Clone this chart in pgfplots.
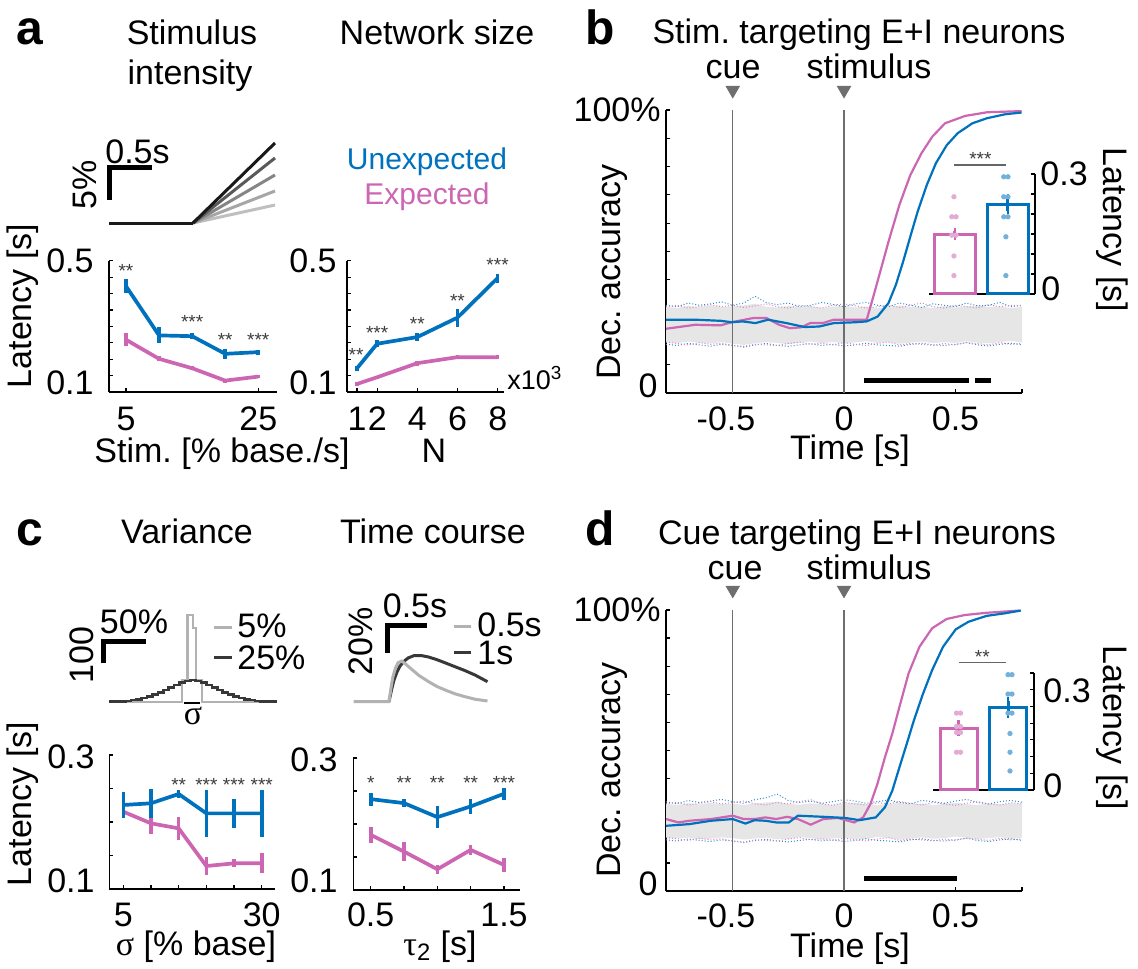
\documentclass[border=0pt]{standalone}
\usepackage{fontspec}
\setmainfont{Liberation Sans}
\newfontfamily\greek{Liberation Serif}
\usepackage{pgfplots}
\usepackage{pgfplotstable}
\pgfplotsset{compat=1.18}
\frenchspacing
\definecolor{ublue}{RGB}{0,114,189}
\definecolor{umag}{RGB}{204,102,178}
\definecolor{sgray}{RGB}{60,60,60}
\definecolor{band}{RGB}{230,230,230}
\definecolor{vline}{RGB}{110,110,110}
\newcommand\fs{\fontsize{17}{19}\selectfont}
\newcommand\fl{\fontsize{15}{18}\selectfont}
\newcommand\fst{\fontsize{9.5}{10}\selectfont}
\newcommand\fx{\fontsize{13.5}{15}\selectfont}
\newcommand\fb{\fontsize{24}{26}\selectfont\bfseries}
\tikzset{st/.style={sgray, font=\fst, yshift=-1pt}}
\pgfplotsset{
  base/.style={scale only axis, clip=false, enlargelimits=false, anchor=south west,
    axis line style={line width=0.7pt,-}, tick align=inside, major tick length=2pt,
    tick style={line width=0.6pt,black}, xticklabels={}, yticklabels={}},
  lat/.style={base, axis x line*=bottom, axis y line*=left},
  ins/.style={base, axis x line*=bottom, axis y line*=right, xtick={1,2}, ymin=0},
  dl/.style={line width=1.85pt, line join=round},
  eb/.style={error bars/y dir=both, error bars/y explicit, error bars/error mark=none,
     error bars/error bar style={line width=1.8pt,#1}},
  ebc/.style={error bars/y dir=both, error bars/y explicit, error bars/error mark=-,
     error bars/error mark options={line width=1.2pt, mark size=1.7pt, #1},
     error bars/error bar style={line width=1.5pt,#1}},
}
\pgfplotstableread{
x ub um lb lm
-0.80 .310 .305 .172 .180
-0.75 .305 .310 .168 .175
-0.70 .318 .300 .175 .170
-0.65 .310 .305 .170 .178
-0.60 .315 .312 .165 .172
-0.55 .322 .305 .172 .176
-0.50 .310 .310 .168 .168
-0.45 .318 .302 .162 .165
-0.40 .342 .308 .170 .172
-0.35 .320 .315 .175 .170
-0.30 .312 .305 .168 .168
-0.25 .318 .300 .165 .175
-0.20 .305 .310 .170 .180
-0.15 .310 .305 .174 .172
-0.10 .320 .300 .168 .176
-0.05 .313 .310 .172 .170
0.00 .305 .315 .166 .178
0.05 .315 .308 .170 .172
0.10 .320 .300 .176 .168
0.15 .310 .305 .170 .175
0.20 .305 .310 .168 .180
0.25 .318 .302 .165 .170
0.30 .310 .310 .172 .175
0.35 .302 .318 .176 .172
0.40 .315 .305 .170 .168
0.45 .310 .300 .168 .175
0.50 .305 .310 .172 .170
0.55 .318 .305 .178 .178
0.60 .308 .300 .170 .175
0.65 .310 .312 .166 .170
0.70 .320 .305 .172 .178
0.75 .305 .310 .176 .172
0.80 .310 .308 .170 .175
}\bandb
\pgfplotstableread{
x ub um lb lm
-0.80 .318 .310 .182 .190
-0.75 .310 .316 .178 .186
-0.70 .322 .306 .185 .180
-0.65 .315 .312 .180 .188
-0.60 .320 .318 .176 .182
-0.55 .326 .310 .182 .186
-0.50 .318 .315 .178 .178
-0.45 .312 .320 .172 .175
-0.40 .325 .310 .180 .182
-0.35 .332 .306 .184 .180
-0.30 .345 .315 .178 .178
-0.25 .322 .310 .175 .185
-0.20 .315 .318 .180 .190
-0.15 .320 .325 .184 .182
-0.10 .312 .310 .178 .186
-0.05 .318 .305 .182 .180
0.00 .325 .315 .176 .188
0.05 .320 .310 .180 .182
0.10 .312 .306 .186 .178
0.15 .318 .314 .180 .185
0.20 .324 .310 .178 .190
0.25 .315 .318 .175 .180
0.30 .310 .312 .182 .185
0.35 .322 .306 .186 .182
0.40 .318 .315 .180 .178
0.45 .312 .310 .178 .185
0.50 .320 .305 .182 .180
0.55 .326 .312 .188 .188
0.60 .315 .318 .180 .185
0.65 .310 .310 .176 .180
0.70 .318 .306 .182 .188
0.75 .322 .314 .186 .182
0.80 .316 .310 .180 .185
}\bandd
\begin{document}
\begin{tikzpicture}
\path[use as bounding box] (0,0) rectangle (569pt,484pt);

% ---------- a: stimulus intensity ----------
\begin{axis}[lat, at={(54.5pt,288pt)}, width=84pt, height=65.65pt,
  xmin=2.43, xmax=27.83, ymin=0.1, ymax=0.5, xtick={5,25},
  ytick={0.1,0.15,0.2,0.25,0.3,0.35,0.4,0.45,0.5}]
\addplot[umag, dl, eb=umag] coordinates {(5,0.2592)+-(0,0.019) (10,0.201)+-(0,0.008) (15,0.1724)+-(0,0.006) (20,0.1347)+-(0,0.006) (25,0.1469)+-(0,0.005)};
\addplot[ublue, dl, eb=ublue] coordinates {(5,0.4224)+-(0,0.022) (10,0.2724)+-(0,0.0245) (15,0.270)+-(0,0.01) (20,0.2163)+-(0,0.015) (25,0.2214)+-(0,0.008)};
\node[st] at (axis cs:5,0.476) {**};
\node[st] at (axis cs:15,0.318) {***};
\node[st] at (axis cs:20,0.264) {**};
\node[st] at (axis cs:25,0.264) {***};
\end{axis}

% ---------- a: network size ----------
\begin{axis}[lat, at={(173.5pt,288pt)}, width=78.3pt, height=65.65pt,
  xmin=0.5, xmax=8.3, ymin=0.1, ymax=0.5, xtick={1,2,4,6,8},
  ytick={0.1,0.15,0.2,0.25,0.3,0.35,0.4,0.45,0.5}]
\addplot[umag, dl, eb=umag] coordinates {(1,0.1245)+-(0,0.005) (2,0.1449)+-(0,0.004) (4,0.1878)+-(0,0.008) (6,0.2061)+-(0,0.007) (8,0.2055)+-(0,0.006)};
\addplot[ublue, dl, eb=ublue] coordinates {(1,0.1724)+-(0,0.008) (2,0.2469)+-(0,0.01) (4,0.2673)+-(0,0.012) (6,0.3265)+-(0,0.027) (8,0.447)+-(0,0.0135)};
\node[st] at (axis cs:0.95,0.218) {**};
\node[st] at (axis cs:2,0.285) {***};
\node[st] at (axis cs:4,0.313) {**};
\node[st] at (axis cs:6,0.382) {**};
\node[st] at (axis cs:8,0.493) {***};
\end{axis}

% ---------- c: variance ----------
\begin{axis}[lat, at={(54.65pt,39.5pt)}, width=82.85pt, height=67pt,
  xmin=2.47, xmax=32.4, ymin=0.1, ymax=0.3, xtick={5,10,15,20,25,30},
  ytick={0.1,0.15,0.2,0.25,0.3}]
\addplot[umag, dl, eb=umag] coordinates {(5,0.2154)+-(0,0.006) (10,0.198)+-(0,0.016) (15,0.1905)+-(0,0.017) (20,0.1343)+-(0,0.013) (25,0.1383)+-(0,0.006) (30,0.1383)+-(0,0.015)};
\addplot[ublue, dl, eb=ublue] coordinates {(5,0.2254)+-(0,0.02) (10,0.2279)+-(0,0.022) (15,0.2418)+-(0,0.006) (20,0.2129)+-(0,0.035) (25,0.2129)+-(0,0.022) (30,0.2129)+-(0,0.035)};
\node[st] at (axis cs:15,0.2587) {**};
\node[st] at (axis cs:20,0.2587) {***};
\node[st] at (axis cs:25,0.2587) {***};
\node[st] at (axis cs:30,0.2587) {***};
\end{axis}

% ---------- c: time course ----------
\begin{axis}[lat, at={(176.65pt,39pt)}, width=83.15pt, height=66pt,
  xmin=0.3695, xmax=1.617, ymin=0.1, ymax=0.3, xtick={0.5,0.75,1,1.25,1.5},
  ytick={0.1,0.15,0.2,0.25,0.3}]
\addplot[umag, dl, eb=umag] coordinates {(0.5,0.1835)+-(0,0.012) (0.75,0.1582)+-(0,0.014) (1,0.1314)+-(0,0.007) (1.25,0.1608)+-(0,0.008) (1.5,0.138)+-(0,0.01)};
\addplot[ublue, dl, eb=ublue] coordinates {(0.5,0.2377)+-(0,0.01) (0.75,0.2316)+-(0,0.006) (1,0.2104)+-(0,0.017) (1.25,0.2266)+-(0,0.012) (1.5,0.2458)+-(0,0.009)};
\node[st] at (axis cs:0.5,0.2646) {*};
\node[st] at (axis cs:0.75,0.2646) {**};
\node[st] at (axis cs:1,0.2646) {**};
\node[st] at (axis cs:1.25,0.2646) {**};
\node[st] at (axis cs:1.5,0.2646) {***};
\end{axis}

% ---------- b: decoding ----------
\begin{axis}[lat, at={(333pt,287.5pt)}, width=178pt, height=141.5pt,
  xmin=-0.8, xmax=0.8, ymin=0, ymax=1, xtick={-0.5,0,0.5,0.8},
  ytick={0,0.1,0.2,0.3,0.4,0.5,0.6,0.7,0.8,0.9,1}]
\addplot[fill=band, draw=none] coordinates {(-0.8,.305) (-0.75,.300) (-0.7,.308) (-0.65,.302) (-0.6,.310) (-0.55,.304) (-0.5,.306) (-0.45,.310) (-0.4,.315) (-0.35,.305) (-0.3,.302) (-0.25,.308) (-0.2,.303) (-0.15,.306) (-0.1,.300) (-0.05,.305) (0,.308) (0.05,.302) (0.1,.306) (0.15,.300) (0.2,.304) (0.25,.309) (0.3,.303) (0.35,.305) (0.4,.300) (0.45,.307) (0.5,.302) (0.55,.306) (0.6,.309) (0.65,.303) (0.7,.305) (0.75,.300) (0.8,.304) (0.8,.178) (0.75,.184) (0.7,.180) (0.65,.175) (0.6,.178) (0.55,.183) (0.5,.177) (0.45,.180) (0.4,.176) (0.35,.182) (0.3,.178) (0.25,.174) (0.2,.180) (0.15,.177) (0.1,.183) (0.05,.179) (0,.175) (-0.05,.180) (-0.1,.176) (-0.15,.182) (-0.2,.178) (-0.25,.172) (-0.3,.177) (-0.35,.180) (-0.4,.176) (-0.45,.170) (-0.5,.174) (-0.55,.180) (-0.6,.175) (-0.65,.178) (-0.7,.182) (-0.75,.176) (-0.8,.180)};
\addplot[ublue!80, densely dotted, line width=0.5pt] table[x=x,y=ub]{\bandb};
\addplot[umag!80, densely dotted, line width=0.5pt] table[x=x,y=um]{\bandb};
\addplot[ublue!80, densely dotted, line width=0.5pt] table[x=x,y=lb]{\bandb};
\addplot[umag!80, densely dotted, line width=0.5pt] table[x=x,y=lm]{\bandb};
\addplot[vline, line width=0.7pt] coordinates {(-0.5,0) (-0.5,1)};
\addplot[vline, line width=0.7pt] coordinates {(0,0) (0,1)};
\addplot[umag, line width=1.1pt] coordinates {(-0.8,0.227) (-0.669,0.241) (-0.554,0.239) (-0.505,0.25) (-0.407,0.265) (-0.349,0.265) (-0.292,0.241) (-0.243,0.229) (-0.193,0.232) (-0.152,0.247) (-0.095,0.247) (-0.046,0.259) (0.102,0.259) (0.134,0.347) (0.167,0.441) (0.2,0.535) (0.249,0.665) (0.298,0.77) (0.348,0.847) (0.397,0.906) (0.454,0.953) (0.544,0.979) (0.643,0.992) (0.798,0.996)};
\addplot[ublue, line width=1.1pt] coordinates {(-0.8,0.259) (-0.669,0.259) (-0.554,0.255) (-0.505,0.25) (-0.456,0.253) (-0.398,0.247) (-0.341,0.259) (-0.259,0.247) (-0.177,0.233) (-0.111,0.235) (-0.046,0.247) (0.052,0.25) (0.102,0.253) (0.151,0.27) (0.2,0.318) (0.233,0.382) (0.266,0.465) (0.298,0.553) (0.331,0.641) (0.372,0.735) (0.413,0.812) (0.462,0.876) (0.511,0.918) (0.577,0.953) (0.643,0.971) (0.725,0.985) (0.798,0.991)};
\addplot[black, line width=2.5pt] coordinates {(0.09,0.0435) (0.56,0.0435)};
\addplot[black, line width=2.5pt] coordinates {(0.59,0.0435) (0.66,0.0435)};
\addplot[only marks, mark=triangle*, mark size=3.8pt, mark options={rotate=180, fill=vline, draw=vline}] coordinates {(-0.5,1.07) (0,1.07)};
\end{axis}

% ---------- b: inset ----------
\begin{axis}[ins, at={(464.5pt,337pt)}, width=53pt, height=60pt,
  xmin=0.51, xmax=2.51, ymax=0.3, ytick={0,0.05,0.1,0.15,0.2,0.25,0.3}]
\addplot[ybar, bar shift=0pt, bar width=20.5pt, draw=umag, fill=white, line width=1.5pt] coordinates {(1,0.1495)};
\addplot[ybar, bar shift=0pt, bar width=20.5pt, draw=ublue, fill=white, line width=1.5pt] coordinates {(2,0.2245)};
\addplot[only marks, mark=*, mark size=1.1pt, umag!55!white] coordinates {(0.98,0.243) (0.94,0.193) (1.02,0.193) (0.94,0.147) (1.02,0.147) (0.98,0.095) (0.98,0.046)};
\addplot[only marks, mark=*, mark size=1.1pt, ublue!55!white] coordinates {(1.92,0.293) (2.0,0.293) (1.92,0.243) (2.0,0.243) (1.92,0.193) (2.0,0.193) (1.96,0.143) (1.96,0.046)};
\addplot[draw=none, mark=none, ebc=umag] coordinates {(1,0.1495)+-(0,0.007)};
\addplot[draw=none, mark=none, ebc=ublue] coordinates {(2,0.2245)+-(0,0.017)};
\addplot[black!60, line width=0.6pt] coordinates {(0.98,0.3225) (1.96,0.3225)};
\node[st] at (axis cs:1.48,0.3425) {***};
\end{axis}

% ---------- d: decoding ----------
\begin{axis}[lat, at={(333pt,38.5pt)}, width=178pt, height=140.5pt,
  xmin=-0.8, xmax=0.8, ymin=0, ymax=1, xtick={-0.5,0,0.5,0.8},
  ytick={0,0.1,0.2,0.3,0.4,0.5,0.6,0.7,0.8,0.9,1}]
\addplot[fill=band, draw=none] coordinates {(-0.8,.310) (-0.75,.306) (-0.7,.312) (-0.65,.308) (-0.6,.314) (-0.55,.309) (-0.5,.311) (-0.45,.306) (-0.4,.312) (-0.35,.315) (-0.3,.318) (-0.25,.310) (-0.2,.307) (-0.15,.312) (-0.1,.309) (-0.05,.306) (0,.311) (0.05,.314) (0.1,.308) (0.15,.305) (0.2,.310) (0.25,.313) (0.3,.308) (0.35,.311) (0.4,.306) (0.45,.310) (0.5,.314) (0.55,.309) (0.6,.306) (0.65,.311) (0.7,.308) (0.75,.312) (0.8,.309) (0.8,.190) (0.75,.186) (0.7,.192) (0.65,.188) (0.6,.185) (0.55,.190) (0.5,.194) (0.45,.188) (0.4,.186) (0.35,.191) (0.3,.187) (0.25,.183) (0.2,.189) (0.15,.192) (0.1,.186) (0.05,.184) (0,.190) (-0.05,.187) (-0.1,.183) (-0.15,.188) (-0.2,.192) (-0.25,.186) (-0.3,.184) (-0.35,.190) (-0.4,.187) (-0.45,.183) (-0.5,.188) (-0.55,.191) (-0.6,.186) (-0.65,.184) (-0.7,.190) (-0.75,.187) (-0.8,.189)};
\addplot[ublue!80, densely dotted, line width=0.5pt] table[x=x,y=ub]{\bandd};
\addplot[umag!80, densely dotted, line width=0.5pt] table[x=x,y=um]{\bandd};
\addplot[ublue!80, densely dotted, line width=0.5pt] table[x=x,y=lb]{\bandd};
\addplot[umag!80, densely dotted, line width=0.5pt] table[x=x,y=lm]{\bandd};
\addplot[vline, line width=0.7pt] coordinates {(-0.5,0) (-0.5,1)};
\addplot[vline, line width=0.7pt] coordinates {(0,0) (0,1)};
\addplot[umag, line width=1.1pt] coordinates {(-0.8,0.256) (-0.744,0.244) (-0.695,0.25) (-0.598,0.256) (-0.5,0.268) (-0.451,0.256) (-0.402,0.256) (-0.353,0.262) (-0.305,0.256) (-0.256,0.264) (-0.207,0.256) (-0.15,0.236) (-0.093,0.256) (-0.028,0.26) (0.046,0.244) (0.086,0.262) (0.119,0.31) (0.15,0.381) (0.184,0.476) (0.217,0.56) (0.249,0.655) (0.29,0.774) (0.339,0.869) (0.396,0.935) (0.461,0.968) (0.542,0.982) (0.64,0.99) (0.787,0.998)};
\addplot[ublue, line width=1.1pt] coordinates {(-0.8,0.232) (-0.695,0.238) (-0.598,0.25) (-0.5,0.256) (-0.443,0.24) (-0.402,0.252) (-0.353,0.25) (-0.305,0.244) (-0.248,0.244) (-0.207,0.268) (-0.093,0.264) (0.005,0.26) (0.07,0.252) (0.143,0.262) (0.184,0.298) (0.217,0.357) (0.249,0.44) (0.282,0.524) (0.314,0.607) (0.355,0.702) (0.396,0.786) (0.445,0.869) (0.502,0.931) (0.559,0.958) (0.64,0.979) (0.721,0.988) (0.795,0.998)};
\addplot[black, line width=2.5pt] coordinates {(0.09,0.046) (0.51,0.046)};
\addplot[only marks, mark=triangle*, mark size=3.8pt, mark options={rotate=180, fill=vline, draw=vline}] coordinates {(-0.5,1.071) (0,1.071)};
\end{axis}

% ---------- d: inset ----------
\begin{axis}[ins, at={(466.5pt,89pt)}, width=50.5pt, height=58.5pt,
  xmin=0.485, xmax=2.525, ymax=0.35, ytick={0,0.05,0.1,0.15,0.2,0.25,0.3,0.35}]
\addplot[ybar, bar shift=0pt, bar width=18.5pt, draw=umag, fill=white, line width=1.5pt] coordinates {(1,0.185)};
\addplot[ybar, bar shift=0pt, bar width=18.5pt, draw=ublue, fill=white, line width=1.5pt] coordinates {(2,0.247)};
\addplot[only marks, mark=*, mark size=1.1pt, umag!55!white] coordinates {(0.96,0.23) (1.04,0.23) (0.96,0.19) (1.04,0.19) (0.96,0.172) (1.04,0.172) (0.96,0.113) (1.04,0.113)};
\addplot[only marks, mark=*, mark size=1.1pt, ublue!55!white] coordinates {(2.0,0.345) (2.08,0.345) (2.0,0.287) (2.08,0.287) (2.0,0.23) (2.08,0.23) (2.04,0.169) (2.04,0.113) (2.04,0.057)};
\addplot[draw=none, mark=none, ebc=umag] coordinates {(1,0.185)+-(0,0.013)};
\addplot[draw=none, mark=none, ebc=ublue] coordinates {(2,0.247)+-(0,0.02)};
\addplot[black!60, line width=0.6pt] coordinates {(1.01,0.381) (1.96,0.381)};
\node[st] at (axis cs:1.48,0.405) {**};
\end{axis}

% ---------- overlay: schematics and text (pixel coordinates) ----------
\tikzset{every node/.append style={inner sep=0pt}}
\begin{axis}[scale only axis, hide axis, clip=false, enlargelimits=false,
  at={(0pt,0pt)}, anchor=south west, width=569pt, height=484pt,
  xmin=0, xmax=1138, ymin=0, ymax=968, y dir=reverse]
% ramps (panel a)
\addplot[black!25, line width=1.5pt] coordinates {(193,223) (275,205)};
\addplot[black!35, line width=1.5pt] coordinates {(193,223) (275,191)};
\addplot[black!48, line width=1.5pt] coordinates {(193,223) (275,175)};
\addplot[black!65, line width=1.5pt] coordinates {(193,223) (275,158)};
\addplot[black!90, line width=1.5pt] coordinates {(193,223) (275,143)};
\addplot[black!90, line width=1.5pt] coordinates {(109,223) (193,223)};
\addplot[black, line width=2.5pt] coordinates {(109,200) (109,168) (152,168)};
% histograms (panel c)
\addplot[black!30, line width=1.3pt] coordinates {(109,702) (182,702) (182,680) (187.5,680) (187.5,615) (193,615) (193,628) (196,628) (196,680) (202,680) (202,702) (277,702)};
\addplot[black!78, line width=1.3pt, const plot] coordinates {(109.3,701.7) (114.7,701.5) (120.1,701.2) (125.5,700.8) (130.9,700.1) (136.3,699.2) (141.7,698) (147.1,696.5) (152.5,694.7) (157.9,692.5) (163.3,690) (168.7,687.5) (174.1,685) (179.5,682.5) (184.9,681) (190.3,680) (195.7,681) (201.1,682.5) (206.5,685) (211.9,687.5) (217.3,690) (222.7,692.5) (228.1,694.7) (233.5,696.5) (238.9,698) (244.3,699.2) (249.7,700.1) (255.1,700.8) (260.5,701.2) (265.9,701.5) (271.3,701.7) (276.7,701.7)};
\addplot[black, line width=1.2pt] coordinates {(184,703) (200,703)};
\addplot[black, line width=2.5pt] coordinates {(103.6,663.3) (103.6,641.7) (146.4,641.7)};
\addplot[black!30, line width=1.5pt] coordinates {(214,627) (232,627)};
\addplot[black!78, line width=1.5pt] coordinates {(214,657) (232,657)};
% time course (panel c)
\addplot[black!78, line width=1.5pt] coordinates {(389,701.7) (391.5,690) (394,680) (397,672) (400,666) (403.6,661.7) (408,658) (414.3,655.5) (421,655.5) (428.6,657) (437,659.7) (446.4,663.3) (455,666.7) (464.3,670.3) (475,675) (487.5,681.7)};
\addplot[black!30, line width=1.5pt] coordinates {(353.6,701.7) (389,701.7) (391,688) (392.9,676.7) (395.5,668) (398,662.7) (401.8,661) (405,663.5) (410.7,668.5) (419,675.5) (428.6,681.7) (437,686.5) (446.4,690.5) (455,693.8) (464.3,696.5) (475,699.2) (487.5,701)};
\addplot[black, line width=2.5pt] coordinates {(387.5,653) (387.5,625) (426.8,625)};
\addplot[black!30, line width=1.5pt] coordinates {(453.6,626) (471.4,626)};
\addplot[black!78, line width=1.5pt] coordinates {(453.6,652) (471.4,652)};
% panel letters
\node[font=\fb, anchor=base] at (axis cs:30,45) {a};
\node[font=\fb, anchor=base] at (axis cs:600,45) {b};
\node[font=\fb, anchor=base] at (axis cs:30,545) {c};
\node[font=\fb, anchor=base] at (axis cs:600,545) {d};
% titles
\node[font=\fs, anchor=base] at (axis cs:192,45) {Stimulus};
\node[font=\fs, anchor=base] at (axis cs:190,85) {intensity};
\node[font=\fs, anchor=base] at (axis cs:437,45) {Network size};
\node[font=\fs, anchor=base] at (axis cs:859,44) {Stim. targeting E+I neurons};
\node[font=\fs, anchor=base] at (axis cs:187,543) {Variance};
\node[font=\fs, anchor=base] at (axis cs:433,543) {Time course};
\node[font=\fs, anchor=base] at (axis cs:857,544) {Cue targeting E+I neurons};
\node[font=\fs, anchor=base] at (axis cs:733,79) {cue};
\node[font=\fs, anchor=base] at (axis cs:869,79) {stimulus};
\node[font=\fs, anchor=base] at (axis cs:735,579) {cue};
\node[font=\fs, anchor=base] at (axis cs:869,579) {stimulus};
% panel a text
\node[font=\fl, text=ublue] at (axis cs:427,162) {Unexpected};
\node[font=\fl, text=umag] at (axis cs:427,197) {Expected};
\node[font=\fs] at (axis cs:137.5,152) {0.5s};
\node[font=\fs, rotate=90] at (axis cs:85,185) {5\%};
\node[font=\fs, anchor=east] at (axis cs:94,261) {0.5};
\node[font=\fs, anchor=east] at (axis cs:94,383) {0.1};
\node[font=\fs, anchor=east] at (axis cs:337,261) {0.5};
\node[font=\fs, anchor=east] at (axis cs:337,383) {0.1};
\node[font=\fs] at (axis cs:126,419) {5};
\node[font=\fs] at (axis cs:258.3,419) {25};
\node[font=\fs] at (axis cs:357,419) {1};
\node[font=\fs] at (axis cs:377.2,419) {2};
\node[font=\fs] at (axis cs:417.4,419) {4};
\node[font=\fs] at (axis cs:457.6,419) {6};
\node[font=\fs] at (axis cs:497.8,419) {8};
\node[font=\fx, anchor=west] at (axis cs:507,378) {x10\textsuperscript{3}};
\node[font=\fs, anchor=base] at (axis cs:222,462) {Stim. [\% base./s]};
\node[font=\fs, anchor=base] at (axis cs:434,462) {N};
\node[font=\fs, rotate=90] at (axis cs:23,306) {Latency [s]};
% panel c text
\node[font=\fs, anchor=east] at (axis cs:95,757) {0.3};
\node[font=\fs, anchor=east] at (axis cs:95,881) {0.1};
\node[font=\fs, anchor=east] at (axis cs:338,760) {0.3};
\node[font=\fs, anchor=east] at (axis cs:338,881) {0.1};
\node[font=\fs] at (axis cs:123.3,914.5) {5};
\node[font=\fs] at (axis cs:261.7,914.5) {30};
\node[font=\fs] at (axis cs:370.7,914.5) {0.5};
\node[font=\fs] at (axis cs:504,914.5) {1.5};
\node[font=\fs, anchor=base] at (axis cs:196,955) {{\greek σ} [\% base]};
\node[font=\fs, anchor=base] at (axis cs:440,955) {{\greek τ}\textsubscript{2} [s]};
\node[font=\fs, rotate=90] at (axis cs:23,804) {Latency [s]};
\node[font=\fs] at (axis cs:134,622) {50\%};
\node[font=\fs, rotate=90] at (axis cs:82,655) {100};
\node[font=\fs, anchor=west] at (axis cs:237,626) {5\%};
\node[font=\fs, anchor=west] at (axis cs:237,658) {25\%};
\node[font=\fs] at (axis cs:193,716) {\greek σ};
\node[font=\fs] at (axis cs:415,606) {0.5s};
\node[font=\fs, rotate=90] at (axis cs:361,641) {20\%};
\node[font=\fs, anchor=west] at (axis cs:477,625) {0.5s};
\node[font=\fs, anchor=west] at (axis cs:477,653) {1s};
% panel b text
\node[font=\fs, anchor=east] at (axis cs:661,110) {100\%};
\node[font=\fs, anchor=east] at (axis cs:658,386) {0};
\node[font=\fs] at (axis cs:726,419) {-0.5};
\node[font=\fs] at (axis cs:844,419) {0};
\node[font=\fs] at (axis cs:955.5,419) {0.5};
\node[font=\fs, anchor=base] at (axis cs:850,459) {Time [s]};
\node[font=\fs, rotate=90] at (axis cs:612,272) {Dec. accuracy};
\node[font=\fs, rotate=-90] at (axis cs:1112,230) {Latency [s]};
\node[font=\fs, anchor=west] at (axis cs:1040,174) {0.3};
\node[font=\fs, anchor=west] at (axis cs:1041,289) {0};
% panel d text
\node[font=\fs, anchor=east] at (axis cs:661,610) {100\%};
\node[font=\fs, anchor=east] at (axis cs:658,884) {0};
\node[font=\fs] at (axis cs:726,916) {-0.5};
\node[font=\fs] at (axis cs:844,916) {0};
\node[font=\fs] at (axis cs:955.5,916) {0.5};
\node[font=\fs, anchor=base] at (axis cs:850,957) {Time [s]};
\node[font=\fs, rotate=90] at (axis cs:612,770) {Dec. accuracy};
\node[font=\fs, rotate=-90] at (axis cs:1112,728) {Latency [s]};
\node[font=\fs, anchor=west] at (axis cs:1043,691) {0.3};
\node[font=\fs, anchor=west] at (axis cs:1043,786) {0};
\end{axis}
\end{tikzpicture}
\end{document}
